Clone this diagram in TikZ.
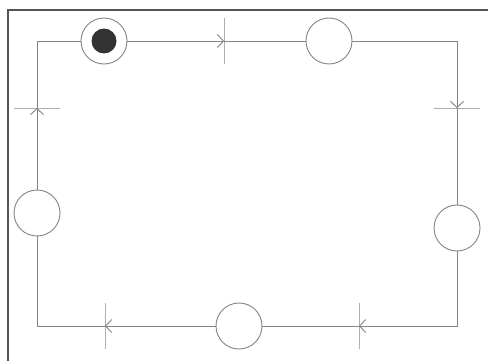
\documentclass[tikz,border=0pt]{standalone}
\usetikzlibrary{arrows.meta}
\definecolor{linegray}{HTML}{858585}
\definecolor{framegray}{HTML}{555555}
\definecolor{tokengray}{HTML}{333333}
\begin{document}
\begin{tikzpicture}[x=1pt,y=-1pt,
  place/.style={circle,draw=linegray,line width=0.9pt,minimum size=46pt,inner sep=0pt},
  hbar/.style={draw=linegray,line width=0.9pt,minimum width=46pt,minimum height=0pt,inner sep=0pt,rectangle},
  vbar/.style={draw=linegray,line width=0.9pt,minimum height=46pt,minimum width=0pt,inner sep=0pt,rectangle},
  arc/.style={draw=linegray,line width=0.9pt},
  arcto/.style={arc,-{Straight Barb[length=6pt,width=13pt]}},
  token/.style={circle,fill=tokengray,minimum size=25pt,inner sep=0pt}]
\useasboundingbox (0,0) rectangle (488,361);
\fill[white] (0,0) rectangle (488,361);
% outer frame (top and left edges)
\draw[framegray,line width=1.6pt] (8,361) -- (8,10) -- (488,10);
% places
\node[place] (p1) at (104,41) {};
\node[token] (k1) at (p1.center) {};
\node[place] (p2) at (329,41) {};
\node[place] (p3) at (457,228) {};
\node[place] (p4) at (239,326) {};
\node[place] (p5) at (37,213) {};
% transitions
\node[vbar] (t1) at (224,41) {};
\node[hbar] (t2) at (457,108) {};
\node[vbar] (t3) at (359,326) {};
\node[vbar] (t4) at (105,326) {};
\node[hbar] (t5) at (37,108) {};
% arcs
\draw[arcto] (p1.east) -- (t1.center);
\draw[arc] (t1.center) -- (p2.west);
\draw[arcto] (p2.east) -| (t2.center);
\draw[arc] (t2.center) -- (p3.north);
\draw[arcto] (p3.south) |- (t3.center);
\draw[arc] (t3.center) -- (p4.east);
\draw[arcto] (p4.west) -- (t4.center);
\draw[arc] (t4.center) -| (p5.south);
\draw[arcto] (p5.north) -- (t5.center);
\draw[arc] (t5.center) |- (p1.west);
\end{tikzpicture}
\end{document}
